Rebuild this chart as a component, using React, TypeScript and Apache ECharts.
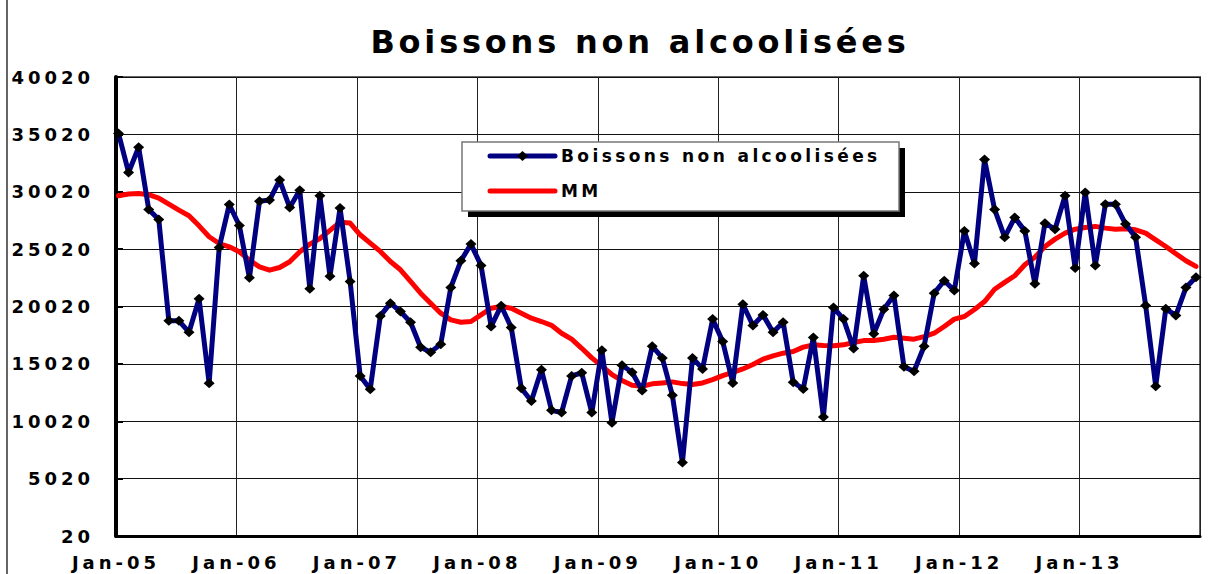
import React, { useEffect, useRef } from 'react';
import * as echarts from 'echarts';

const TITLE = 'Boissons non alcoolisées';
const SERIES_NAME = 'Boissons non alcoolisées';
const MM_NAME = 'MM';

const monthNames = ['Jan', 'Feb', 'Mar', 'Apr', 'May', 'Jun', 'Jul', 'Aug', 'Sep', 'Oct', 'Nov', 'Dec'];
const yearSuffixes = ['05', '06', '07', '08', '09', '10', '11', '12', '13'];
const months = yearSuffixes.flatMap((y) => monthNames.map((m) => `${m}-${y}`));

const xTickLabels = ['Jan-05', 'Jan-06', 'Jan-07', 'Jan-08', 'Jan-09', 'Jan-10', 'Jan-11', 'Jan-12', 'Jan-13'];

const boissons = [
  35100, 31700, 33900, 28480, 27600, 18770, 18770, 17780, 20690, 13330, 25170, 28900,
  27080, 22520, 29200, 29300, 31040, 28650, 30160, 21560, 29670, 22660, 28600, 22200,
  13970, 12810, 19200, 20310, 19580, 18650, 16470, 16040, 16740, 21680, 24000, 25460,
  23600, 18280, 20080, 18190, 12900, 11790, 14510, 10980, 10780, 13970, 14240, 10780,
  16210, 9900, 14900, 14290, 12690, 16560, 15540, 12290, 6420, 15540, 14580, 18920,
  16970, 13360, 20220, 18360, 19290, 17780, 18650, 13420, 12840, 17320, 10400, 19930,
  18920, 16360, 22690, 17640, 19790, 20980, 14760, 14380, 16560, 21180, 22260, 21420,
  26600, 23770, 32830, 28480, 26060, 27770, 26610, 22000, 27280, 26760, 29670, 23370,
  29960, 23600, 28920, 28920, 27220, 26060, 20110, 13080, 19820, 19240, 21670, 22570,
];

const mm = [
  29670, 29820, 29870, 29760, 29470, 28940, 28420, 27930, 27050, 26100, 25510, 25220,
  24790, 24060, 23480, 23190, 23420, 23920, 24790, 25460, 25940, 26650, 27370, 27290,
  26270, 25540, 24820, 23940, 23220, 22200, 21180, 20310, 19440, 18860, 18650, 18710,
  19290, 19870, 20020, 19870, 19440, 19000, 18710, 18380, 17690, 17170, 16380, 15540,
  14820, 14090, 13570, 13160, 13070, 13280, 13360, 13450, 13300, 13220, 13360, 13650,
  14000, 14290, 14580, 14960, 15430, 15720, 15950, 16100, 16480, 16680, 16620, 16590,
  16680, 16880, 17050, 17050, 17170, 17340, 17260, 17170, 17400, 17690, 18280, 18920,
  19150, 19760, 20450, 21520, 22120, 22700, 23660, 24320, 25250, 25890, 26410, 26760,
  26900, 27000, 26850, 26760, 26790, 26700, 26410, 25830, 25250, 24620, 24010, 23510,
];

const yMin = 20;
const yMax = 40020;
const yStep = 5000;

const FONT = '"DejaVu Sans", "Liberation Sans", Arial, sans-serif';

const css = `
.bna svg text[style*="32px"] { letter-spacing: 3.8px; }
.bna svg text[style*="17px"] { letter-spacing: 3.4px; }
.bna svg text[style*="18px"] { letter-spacing: 4px; }
`;

export default function App() {
  const ref = useRef<HTMLDivElement>(null);

  useEffect(() => {
    if (!ref.current) return;
    const chart = echarts.init(ref.current, undefined, { renderer: 'svg' });
    const legendX = 462;
    const legendY = 142;
    const legendW = 437;
    const legendH = 69;
    chart.setOption({
      animation: false,
      backgroundColor: '#fff',
      title: {
        text: TITLE,
        left: 640,
        top: 26,
        padding: 0,
        textAlign: 'center',
        textStyle: { fontFamily: FONT, fontWeight: 'bold', fontSize: 32, color: '#000' },
      },
      grid: [
        { left: 116, right: 28, top: 77, bottom: 38, show: true, borderColor: '#666', borderWidth: 2, backgroundColor: 'transparent' },
        { left: 118.5, right: 32, top: 77, bottom: 38 },
      ],
      xAxis: [
        {
          gridIndex: 0,
          type: 'value',
          min: 0,
          max: 9,
          interval: 1,
          axisLine: { show: true, onZero: false, lineStyle: { color: '#000', width: 3 } },
          axisTick: { show: false },
          axisLabel: {
            show: true,
            margin: 17,
            formatter: (v: number) => xTickLabels[Math.round(v)] ?? '',
            fontFamily: FONT,
            fontWeight: 'bold',
            fontSize: 18,
            color: '#000',
            showMinLabel: true,
          },
          splitLine: { show: true, lineStyle: { color: '#222', width: 1 } },
        },
        {
          gridIndex: 1,
          type: 'category',
          data: months,
          boundaryGap: false,
          show: false,
        },
      ],
      yAxis: [
        {
          gridIndex: 0,
          type: 'value',
          min: yMin,
          max: yMax,
          interval: yStep,
          axisLine: { show: true, onZero: false, lineStyle: { color: '#000', width: 4 } },
          axisTick: { show: true, inside: true, length: 7, lineStyle: { color: '#000', width: 2 } },
          axisLabel: {
            margin: 22,
            formatter: (v: number) => String(Math.round(v)),
            fontFamily: FONT,
            fontWeight: 'bold',
            fontSize: 18,
            color: '#000',
          },
          splitLine: { show: true, lineStyle: { color: '#111', width: 1 } },
        },
        { gridIndex: 1, type: 'value', min: yMin, max: yMax, show: false },
      ],
      series: [
        {
          name: MM_NAME,
          type: 'line',
          xAxisIndex: 1,
          yAxisIndex: 1,
          data: mm,
          symbol: 'none',
          lineStyle: { color: '#ff0000', width: 5, cap: 'round', join: 'round' },
          itemStyle: { color: '#ff0000' },
          z: 2,
        },
        {
          name: SERIES_NAME,
          type: 'line',
          xAxisIndex: 1,
          yAxisIndex: 1,
          data: boissons,
          symbol: 'diamond',
          symbolSize: [11, 10],
          showAllSymbol: true,
          lineStyle: { color: '#000080', width: 5, cap: 'round', join: 'round' },
          itemStyle: { color: '#000' },
          z: 3,
        },
      ],
      graphic: [
        {
          type: 'line',
          shape: { x1: 7, y1: 0, x2: 7, y2: 574 },
          style: { stroke: '#333', lineWidth: 1.5 },
          z: 10,
        },
        {
          type: 'rect',
          shape: { x: legendX + 6, y: legendY + 6, width: legendW, height: legendH },
          style: { fill: '#000' },
          z: 10,
        },
        {
          type: 'rect',
          shape: { x: legendX, y: legendY, width: legendW, height: legendH },
          style: { fill: '#fff', stroke: '#777', lineWidth: 1.5 },
          z: 11,
        },
        {
          type: 'line',
          shape: { x1: legendX + 28, y1: legendY + 14, x2: legendX + 93, y2: legendY + 14 },
          style: { stroke: '#000080', lineWidth: 5, lineCap: 'round' },
          z: 12,
        },
        {
          type: 'polygon',
          shape: {
            points: [
              [legendX + 60.5, legendY + 9],
              [legendX + 66, legendY + 14],
              [legendX + 60.5, legendY + 19],
              [legendX + 55, legendY + 14],
            ],
          },
          style: { fill: '#000' },
          z: 13,
        },
        {
          type: 'text',
          x: legendX + 99,
          y: legendY + 14,
          style: {
            text: SERIES_NAME,
            font: `bold 17px ${FONT}`,
            fill: '#000',
            textAlign: 'left',
            textVerticalAlign: 'middle',
          },
          z: 12,
        },
        {
          type: 'line',
          shape: { x1: legendX + 28, y1: legendY + 49, x2: legendX + 93, y2: legendY + 49 },
          style: { stroke: '#ff0000', lineWidth: 5, lineCap: 'round' },
          z: 12,
        },
        {
          type: 'text',
          x: legendX + 99,
          y: legendY + 49,
          style: {
            text: MM_NAME,
            font: `bold 17px ${FONT}`,
            fill: '#000',
            textAlign: 'left',
            textVerticalAlign: 'middle',
          },
          z: 12,
        },
      ],
    });
    return () => chart.dispose();
  }, []);

  return (
    <>
      <style>{css}</style>
      <div
        ref={ref}
        className="bna"
        style={{ position: 'fixed', left: 0, top: 0, width: 1228, height: 574, background: '#fff' }}
      />
    </>
  );
}
